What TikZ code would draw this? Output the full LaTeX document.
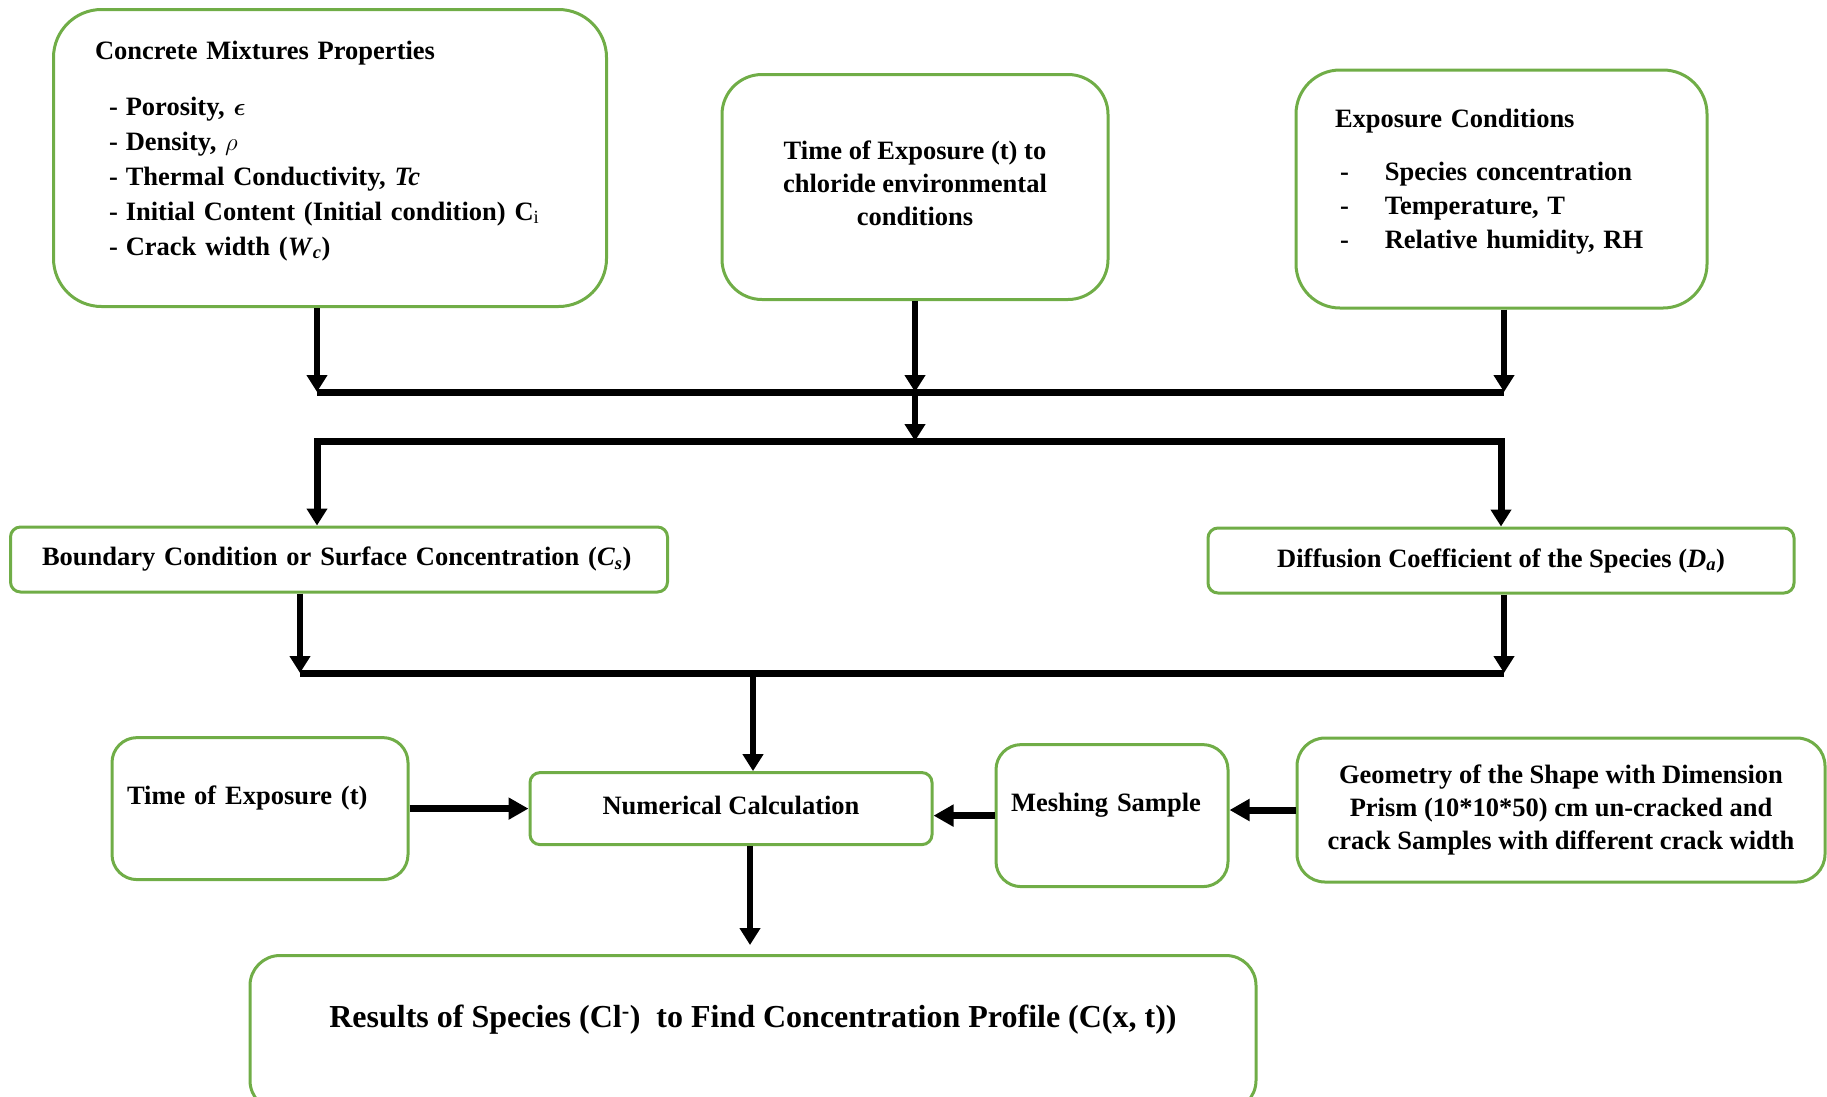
\documentclass[tikz,border=0pt]{standalone}
\usepackage{fontspec}
\setmainfont{Liberation Serif}
\usetikzlibrary{
  calc,
  arrows.meta,
  positioning}
\definecolor{boxgreen}{RGB}{112,173,71}

\begin{document}
\begin{tikzpicture}[x=1pt,y=-1pt]
  \tikzset{greenbox/.style={draw=boxgreen,
                            line width=3pt,
                            rounded corners=#1,
                            inner sep=0pt,
                            align=center,
                            font=\fontsize{26.5}{33}\selectfont\bfseries},
           greenbox/.default=10pt,
           flow/.style={-{Triangle[length=17pt,width=20pt]}, line width=6pt},
           side flow/.style={-{Triangle[length=20pt,width=21pt]}, line width=7pt},
           bus/.style={line width=7pt}
           }

%%%%%%%%%%%%%%%%%%%%%%%%%%%%%%%%%%%%%%%%%%%%%%%%%%%%%%%%%%%%%%%%%%%%%%%%%%%%%%

\useasboundingbox (0,0) rectangle (1827,1096);

%%%%%%%%%%%%%%%%%%%%%%%%%%%%%%%%%%%%%%%%%%%%%%%%%%%%%%%%%%%%%%%%%%%%%%%%%%%%%%

\node[greenbox=48pt,minimum width=553pt,minimum height=297pt,text width=470pt,align=left,font=\fontsize{26.5}{35}\selectfont\bfseries] (CMP) at (330,158) {Concrete Mixtures Properties\\[21pt]
\hspace*{14pt}-\hspace{8pt}Porosity, {\boldmath$\epsilon$}\\
\hspace*{14pt}-\hspace{8pt}Density, $\rho$\\
\hspace*{14pt}-\hspace{8pt}Thermal Conductivity, \textit{Tc}\\
\hspace*{14pt}-\hspace{8pt}Initial Content (Initial condition) C\textsubscript{\mdseries i}\\
\hspace*{14pt}-\hspace{8pt}Crack width (\textit{W}\textsubscript{\textit{c}})\rule[-20pt]{0pt}{20pt}};

\node[greenbox=40pt,minimum width=386pt,minimum height=225pt] (TEC) at (915,187) {Time of Exposure (t) to\\chloride environmental\\conditions\rule[-7pt]{0pt}{7pt}};

\node[greenbox=44pt,minimum width=411pt,minimum height=238pt,text width=333pt,align=left,font=\fontsize{26.5}{34}\selectfont\bfseries] (EC) at (1501.5,189) {Exposure Conditions\\[19pt]
\hspace*{5pt}-\hspace{36pt}Species concentration\\
\hspace*{5pt}-\hspace{36pt}Temperature, T\\
\hspace*{5pt}-\hspace{36pt}Relative humidity, RH\rule[-21pt]{0pt}{21pt}};

\node[greenbox,minimum width=657pt,minimum height=65pt,text width=594pt,align=left] (BC) at (339,559.5) {Boundary Condition or Surface Concentration (\textit{C}\textsubscript{\textit{s}})};

\node[greenbox,minimum width=586pt,minimum height=65pt] (DC) at (1501,560.5) {Diffusion Coefficient of the Species (\textit{D}\textsubscript{\textit{a}})};

\node[greenbox=25pt,minimum width=296pt,minimum height=142pt,text width=266pt,align=left] (TE) at (260,808.6) {Time of Exposure (t)\rule[-27pt]{0pt}{27pt}};

\node[greenbox,minimum width=402pt,minimum height=72pt] (NC) at (731,808.6) {Numerical Calculation\rule[-7pt]{0pt}{7pt}};

\node[greenbox=25pt,minimum width=232pt,minimum height=142pt,text width=202pt,align=left] (MS) at (1112,815.6) {Meshing Sample\rule[-27pt]{0pt}{27pt}};

\node[greenbox=28pt,minimum width=528pt,minimum height=144pt] (GS) at (1561,810) {Geometry of the Shape with Dimension\\Prism (10*10*50) cm un-cracked and\\crack Samples with different crack width};

\node[greenbox=30pt,minimum width=1006pt,minimum height=155pt,font=\fontsize{32}{38}\selectfont\bfseries] (RS) at (753,1033) {Results of Species (Cl\textsuperscript{-})\ \ to Find Concentration Profile (C(x, t))\rule[-34pt]{0pt}{34pt}};

%%%%%%%%%%%%%%%%%%%%%%%%%%%%%%%%%%%%%%%%%%%%%%%%%%%%%%%%%%%%%%%%%%%%%%%%%%%%%%

\coordinate (L1) at (317,392);
\coordinate (M1) at (915,392);
\coordinate (R1) at (1504,392);
\coordinate (L2) at (317,441);
\coordinate (M2) at (915,441);
\coordinate (R2) at (1501,441);
\coordinate (L3) at (300,673);
\coordinate (M3) at (753,673);
\coordinate (R3) at (1504,673);

%%%%%%%%%%%%%%%%%%%%%%%%%%%%%%%%%%%%%%%%%%%%%%%%%%%%%%%%%%%%%%%%%%%%%%%%%%%%%%
\draw[flow]  (CMP.south -| L1) -- (L1);
\draw[flow]  (TEC.south -| M1) -- (M1);
\draw[flow]  (EC.south -| R1) -- (R1);
\draw[bus]   (L1) -- (R1);
\draw[flow]  (M1) -- (M2);
\draw[flow, line width=7pt]  (M2) -| (BC.north -| L2);
\draw[flow, line width=7pt]  (M2) -| (DC.north -| R2);
\draw[flow]  (BC.south -| L3) -- (L3);
\draw[flow]  (DC.south -| R3) -- (R3);
\draw[bus]   (L3) -- (R3);
\draw[flow]  (M3) -- (NC.north -| M3);
\draw[side flow]  (TE.east |- NC.west) -- (NC.west);
\draw[side flow]  (MS.west) -- (NC.east |- MS.west);
\draw[side flow]  (GS.west) -- (MS.east |- GS.west);
\draw[flow, shorten >=9pt]  ([xshift=19pt]NC.south) -- ([xshift=19pt]NC.south |- RS.north);

%%%%%%%%%%%%%%%%%%%%%%%%%%%%%%%%%%%%%%%%%%%%%%%%%%%%%%%%%%%%%%%%%%%%%%%%%%%%%%

\end{tikzpicture}
\end{document}
